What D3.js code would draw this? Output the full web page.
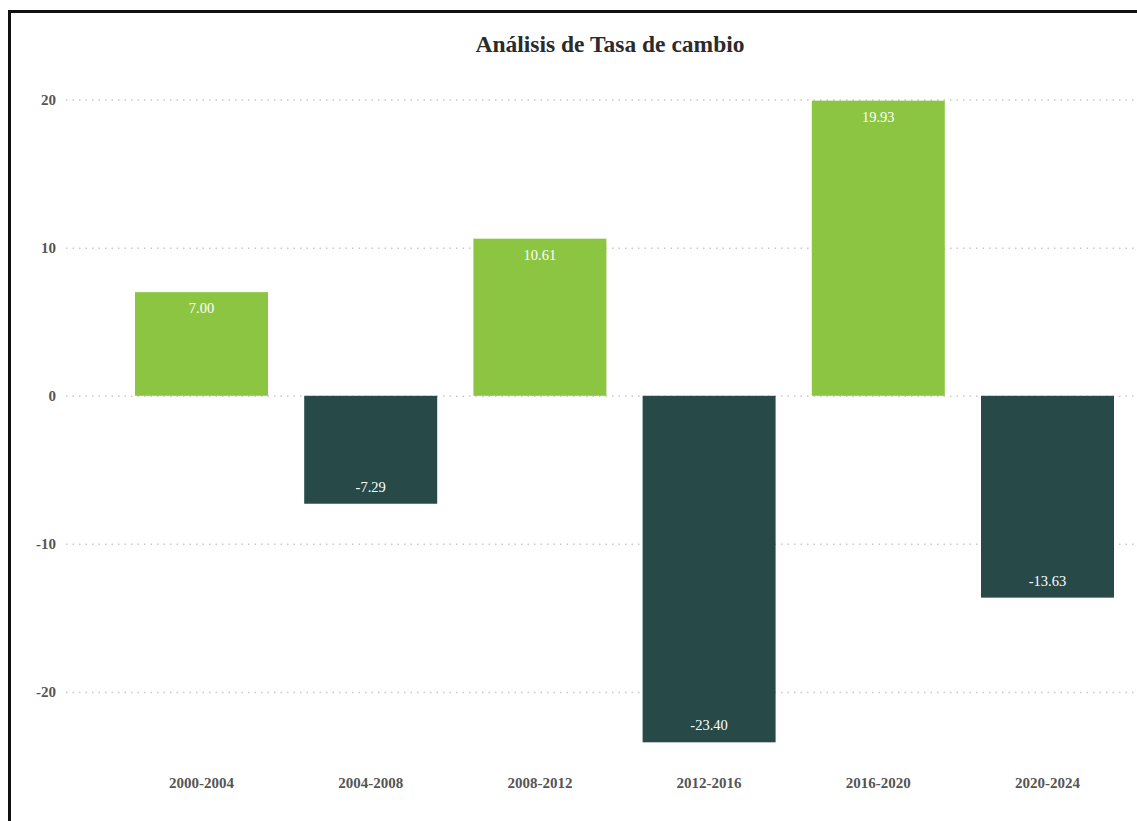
<!DOCTYPE html>
<html>
<head>
<meta charset="utf-8">
<script src="https://cdn.jsdelivr.net/npm/d3@7"></script>
<style>
  body { margin: 0; background: #fff; }
  svg { display: block; font-family: "Liberation Serif", "Times New Roman", serif; }
</style>
</head>
<body>
<div id="chart"></div>
<script>
// data
const periods = ["2000-2004", "2004-2008", "2008-2012", "2012-2016", "2016-2020", "2020-2024"];
const rates = [7.00, -7.29, 10.61, -23.40, 19.93, -13.63];
const yTicks = [-20, -10, 0, 10, 20];

const width = 1137, height = 821;

const svg = d3.select("#chart").append("svg")
    .attr("width", width)
    .attr("height", height);

// frame
svg.append("rect")
    .attr("x", 9.5).attr("y", 11.5)
    .attr("width", 1200).attr("height", 900)
    .attr("fill", "none")
    .attr("stroke", "#111")
    .attr("stroke-width", 3);

// title
svg.append("text")
    .attr("x", 610).attr("y", 52)
    .attr("text-anchor", "middle")
    .attr("font-size", 23.5)
    .attr("font-weight", "bold")
    .attr("fill", "#2b2b2b")
    .text("Análisis de Tasa de cambio");

const x = d3.scaleBand()
    .domain(periods)
    .range([116.9, 1132.1])
    .paddingInner(0.214)
    .paddingOuter(0.107);

const y = d3.scaleLinear()
    .domain([-25, 22])
    .range([766, 70]);

// gridlines + y labels
const yAxis = svg.append("g")
    .attr("transform", "translate(66,0)")
    .call(d3.axisLeft(y).tickValues(yTicks).tickFormat(d => String(d))
        .tickSize(-(width - 66)).tickPadding(10));
yAxis.select(".domain").remove();
yAxis.selectAll(".tick line")
    .attr("stroke", "#c8c8c8")
    .attr("stroke-width", 1.5)
    .attr("stroke-dasharray", "1.5,5");
yAxis.selectAll(".tick text")
    .attr("font-family", "Liberation Serif, serif")
    .attr("font-size", 15)
    .attr("font-weight", "bold")
    .attr("fill", "#555");

// bars
svg.selectAll(".bar")
    .data(rates)
    .enter().append("rect")
    .attr("class", "bar")
    .attr("x", (d, i) => x(periods[i]))
    .attr("y", d => y(Math.max(0, d)))
    .attr("width", x.bandwidth())
    .attr("height", d => Math.abs(y(d) - y(0)))
    .attr("fill", d => d >= 0 ? "#8cc542" : "#274a48");

// value labels
svg.selectAll(".val")
    .data(rates)
    .enter().append("text")
    .attr("class", "val")
    .attr("x", (d, i) => x(periods[i]) + x.bandwidth() / 2)
    .attr("y", d => d >= 0 ? y(d) + 21 : y(d) - 12)
    .attr("text-anchor", "middle")
    .attr("font-size", 14.5)
    .attr("fill", "#fff")
    .text(d => d.toFixed(2));

// x labels
const xAxis = svg.append("g")
    .attr("transform", "translate(0,766)")
    .call(d3.axisBottom(x).tickSize(0).tickPadding(11));
xAxis.select(".domain").remove();
xAxis.selectAll(".tick text")
    .attr("font-family", "Liberation Serif, serif")
    .attr("font-size", 15)
    .attr("font-weight", "bold")
    .attr("fill", "#555");
</script>
</body>
</html>
